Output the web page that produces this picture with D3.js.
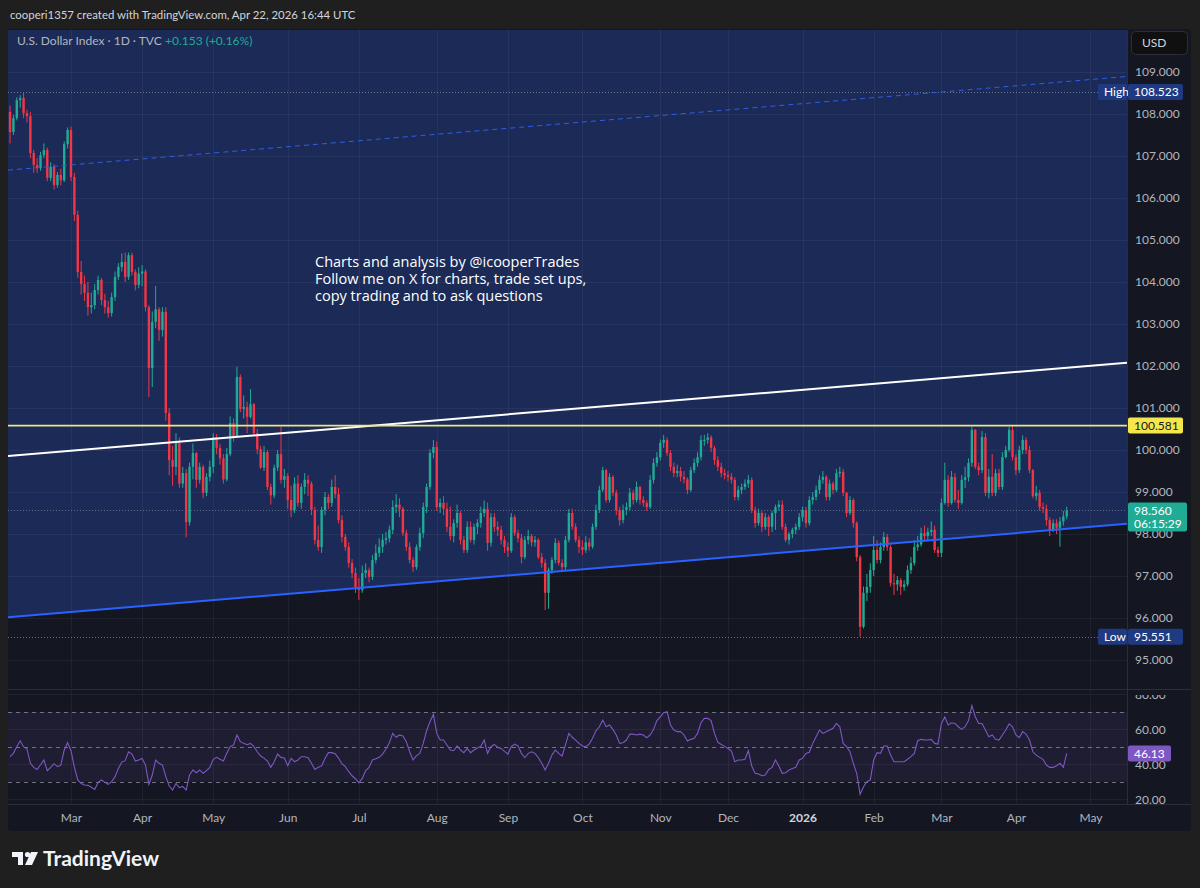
<!DOCTYPE html>
<html>
<head>
<meta charset="utf-8">
<title>U.S. Dollar Index 1D</title>
<script src="https://d3js.org/d3.v7.min.js"></script>
<style>
  html, body { margin: 0; padding: 0; background: #1f1f1f; }
  svg { display: block; font-family: Lato, "Noto Sans", sans-serif; }
</style>
</head>
<body>
<svg id="chart" width="1200" height="888"></svg>
<script>
// DXY daily bars, 5 Feb 2025 - 22 Apr 2026, one line per month
var closes = [
  107.57, 107.90, 108.33, 108.38, 108.02, 107.95, 107.07, 106.79, 106.71, 107.02, 107.14, 106.48, 106.74, 106.31, 106.55, 106.42, 107.28, 107.62,
  106.50, 105.60, 104.24, 103.95, 103.74, 103.40, 103.45, 103.81, 104.05, 103.57, 103.40, 103.26, 103.64, 104.12, 104.36, 104.48, 104.12, 104.64, 104.24, 103.93, 104.20,
  104.25, 103.40, 101.95, 103.05, 103.35, 102.86, 103.29, 100.88, 99.76, 99.60, 100.17, 99.20, 99.45, 98.28, 99.60, 99.93, 99.29, 99.60, 98.98, 99.36, 99.60,
  100.31, 100.05, 99.80, 99.30, 99.90, 100.64, 100.31, 101.74, 100.98, 101.02, 100.79, 101.09, 100.40, 100.02, 99.58, 99.95, 99.12, 98.92, 99.58, 99.90, 99.29, 99.38,
  98.81, 98.57, 99.20, 98.74, 99.12, 99.29, 99.20, 98.57, 97.86, 97.69, 98.57, 98.88, 98.74, 99.12, 98.95, 98.33, 97.93, 97.69, 97.31, 97.07, 96.74,
  96.67, 97.07, 97.14, 96.98, 97.38, 97.55, 97.69, 97.86, 97.90, 98.10, 98.64, 98.70, 98.60, 98.02, 97.69, 97.38, 97.21, 97.69, 98.02, 98.64, 99.12, 99.93, 100.07,
  98.64, 98.74, 98.60, 98.17, 97.95, 98.26, 98.50, 97.86, 97.62, 98.17, 97.86, 98.17, 98.26, 98.50, 98.60, 97.79, 98.40, 98.17, 98.10, 97.86, 97.69,
  97.60, 98.40, 98.02, 97.90, 97.45, 97.86, 97.95, 97.80, 97.86, 97.45, 97.31, 96.60, 97.14, 97.38, 97.79, 97.31, 97.21, 97.86, 98.50, 98.17, 97.86, 97.69,
  97.62, 97.80, 97.70, 98.17, 98.57, 99.05, 99.52, 98.81, 99.36, 98.98, 98.57, 98.33, 98.57, 98.64, 98.98, 98.81, 99.12, 98.81, 98.74, 98.64, 99.29, 99.69, 99.83,
  100.17, 100.24, 99.93, 99.60, 99.45, 99.50, 99.36, 99.30, 99.05, 99.52, 99.69, 99.83, 100.24, 100.24, 100.30, 100.05, 99.76, 99.60, 99.45, 99.40,
  99.36, 99.29, 98.88, 99.05, 99.12, 99.20, 99.29, 98.57, 98.26, 98.50, 98.17, 98.40, 98.17, 98.50, 98.64, 98.70, 98.17, 97.86, 98.00, 98.10, 98.17, 98.40,
  98.57, 98.26, 98.81, 98.88, 99.05, 99.29, 99.36, 98.88, 99.20, 99.05, 99.45, 99.48, 98.98, 98.50, 98.81, 98.26, 97.45, 95.79, 96.60, 96.74, 97.14,
  97.62, 97.38, 97.69, 97.93, 97.69, 96.83, 96.80, 96.90, 96.74, 96.80, 97.14, 97.31, 97.69, 97.75, 98.02, 97.95, 98.05, 98.10, 97.62, 97.55,
  98.74, 99.29, 98.74, 99.36, 98.81, 98.74, 99.29, 99.35, 99.69, 100.48, 99.60, 99.52, 100.31, 98.98, 99.36, 98.98, 99.45, 99.12, 99.83, 100.00, 100.48, 99.83,
  99.52, 100.00, 100.24, 100.00, 99.52, 98.90, 98.98, 98.64, 98.60, 98.33, 98.10, 98.26, 98.15, 98.30, 98.42, 98.56
];
var highs = [
  108.20, 107.98, 108.40, 108.45, 108.523, 108.10, 108.05, 107.15, 106.95, 107.10, 107.30, 107.20, 106.85, 106.80, 106.62, 106.70, 107.35, 107.68,
  107.70, 106.60, 105.70, 104.50, 104.15, 104.00, 103.75, 103.95, 104.15, 104.10, 103.72, 103.55, 103.75, 104.25, 104.45, 104.68, 104.70, 104.70, 104.70, 104.30, 104.35,
  104.40, 104.30, 103.45, 103.30, 103.90, 103.40, 103.40, 103.40, 101.00, 100.10, 100.40, 100.30, 99.60, 99.55, 99.70, 100.15, 99.95, 99.70, 99.65, 99.45, 99.75,
  100.40, 100.38, 100.15, 99.90, 100.05, 100.80, 100.75, 101.98, 101.80, 101.30, 101.15, 101.45, 101.12, 100.50, 100.10, 100.10, 100.00, 99.20, 99.65, 100.00, 100.55, 99.55,
  99.45, 99.15, 99.35, 99.40, 99.20, 99.45, 99.40, 99.25, 98.65, 98.20, 98.65, 99.00, 98.95, 99.30, 99.40, 99.10, 98.45, 98.00, 97.80, 97.40, 97.20,
  96.95, 97.25, 97.30, 97.20, 97.50, 97.75, 97.90, 98.00, 98.05, 98.20, 98.80, 98.95, 98.85, 98.65, 98.10, 97.80, 97.45, 97.75, 98.15, 98.75, 99.20, 100.02, 100.24,
  100.20, 98.85, 98.90, 98.75, 98.65, 98.35, 98.70, 98.55, 97.95, 98.30, 98.30, 98.25, 98.35, 98.65, 98.80, 98.75, 98.50, 98.50, 98.30, 98.20, 97.95,
  97.80, 98.50, 98.45, 98.10, 98.00, 97.95, 98.10, 98.00, 97.95, 97.90, 97.55, 97.40, 97.20, 97.45, 97.90, 97.85, 97.40, 97.95, 98.60, 98.60, 98.25, 97.95,
  97.85, 97.95, 97.90, 98.25, 98.70, 99.15, 99.60, 99.55, 99.45, 99.40, 99.05, 98.65, 98.70, 98.75, 99.10, 99.05, 99.25, 99.15, 98.90, 98.80, 99.40, 99.80, 99.95,
  100.25, 100.36, 100.30, 100.00, 99.70, 99.65, 99.60, 99.50, 99.35, 99.60, 99.80, 99.95, 100.35, 100.36, 100.40, 100.35, 100.10, 99.85, 99.70, 99.55,
  99.50, 99.45, 99.35, 99.15, 99.20, 99.30, 99.40, 99.35, 98.65, 98.60, 98.55, 98.50, 98.45, 98.55, 98.70, 98.80, 98.80, 98.25, 98.05, 98.15, 98.25, 98.50,
  98.65, 98.65, 98.90, 99.00, 99.15, 99.40, 99.50, 99.40, 99.30, 99.25, 99.55, 99.60, 99.55, 99.00, 98.90, 98.85, 98.30, 97.50, 96.75, 97.05, 97.30,
  97.95, 97.85, 97.80, 98.05, 98.00, 97.75, 97.05, 97.00, 96.95, 96.90, 97.25, 97.45, 97.85, 97.95, 98.15, 98.20, 98.15, 98.30, 98.20, 97.70,
  98.85, 99.70, 99.40, 99.50, 99.45, 99.05, 99.40, 99.60, 99.80, 100.55, 100.50, 99.70, 100.45, 100.40, 99.55, 99.90, 99.55, 99.55, 99.95, 100.10, 100.55, 100.581,
  99.90, 100.10, 100.35, 100.30, 100.10, 99.55, 99.15, 99.05, 98.75, 98.70, 98.40, 98.35, 98.35, 98.40, 98.55, 98.65
];
var lows = [
  107.30, 107.50, 107.85, 108.15, 107.90, 107.80, 106.95, 106.60, 106.60, 106.65, 106.95, 106.40, 106.40, 106.20, 106.25, 106.30, 106.38, 107.18,
  106.40, 105.45, 104.10, 103.70, 103.55, 103.20, 103.25, 103.35, 103.70, 103.45, 103.25, 103.15, 103.18, 103.55, 104.05, 104.25, 104.00, 104.05, 104.15, 103.80, 103.85,
  103.90, 103.30, 101.26, 101.50, 102.90, 102.60, 102.70, 100.70, 99.40, 99.15, 99.40, 99.10, 99.10, 97.92, 98.20, 99.30, 99.10, 99.20, 98.85, 98.90, 99.25,
  99.45, 99.90, 99.65, 99.20, 99.25, 99.85, 100.20, 100.30, 100.90, 100.75, 100.40, 100.75, 100.35, 99.90, 99.55, 99.50, 99.05, 98.70, 98.85, 99.50, 99.20, 99.10,
  98.60, 98.40, 98.50, 98.65, 98.60, 98.95, 98.90, 98.45, 97.75, 97.60, 97.55, 98.45, 98.60, 98.65, 98.85, 98.25, 97.80, 97.60, 97.20, 96.95, 96.60,
  96.43, 96.60, 96.95, 96.85, 96.90, 97.30, 97.45, 97.55, 97.75, 97.80, 98.00, 98.50, 98.40, 97.95, 97.60, 97.30, 97.10, 97.15, 97.60, 97.90, 98.50, 99.05, 99.80,
  98.55, 98.50, 98.45, 98.05, 97.85, 97.80, 98.15, 97.75, 97.55, 97.55, 97.80, 97.75, 98.00, 98.15, 98.40, 97.60, 97.70, 98.05, 97.95, 97.75, 97.55,
  97.45, 97.55, 97.95, 97.80, 97.30, 97.40, 97.75, 97.70, 97.70, 97.40, 97.20, 96.19, 96.22, 97.05, 97.30, 97.25, 97.10, 97.15, 97.80, 98.10, 97.80, 97.55,
  97.50, 97.55, 97.60, 97.65, 98.10, 98.50, 99.00, 98.75, 98.75, 98.90, 98.45, 98.20, 98.25, 98.45, 98.55, 98.70, 98.75, 98.70, 98.65, 98.55, 98.60, 99.20, 99.60,
  99.75, 100.05, 99.85, 99.50, 99.35, 99.35, 99.25, 99.20, 98.95, 99.00, 99.45, 99.60, 99.75, 100.10, 100.15, 99.95, 99.65, 99.50, 99.35, 99.30,
  99.25, 99.20, 98.80, 98.80, 98.95, 99.05, 99.10, 98.50, 98.15, 98.20, 98.05, 98.10, 97.95, 98.05, 98.10, 98.55, 98.10, 97.80, 97.75, 97.90, 98.00, 98.10,
  98.30, 98.15, 98.20, 98.70, 98.80, 98.95, 99.20, 98.80, 98.80, 98.95, 99.00, 99.35, 98.90, 98.40, 98.45, 98.15, 97.35, 95.551, 95.75, 96.40, 96.60,
  97.00, 97.30, 97.30, 97.60, 97.60, 96.75, 96.55, 96.65, 96.55, 96.65, 96.75, 97.05, 97.25, 97.60, 97.70, 97.85, 97.85, 97.95, 97.55, 97.45,
  97.45, 98.70, 98.65, 98.70, 98.75, 98.60, 98.70, 99.10, 99.25, 99.60, 99.55, 99.40, 99.45, 98.90, 98.85, 98.90, 98.90, 99.05, 99.05, 99.80, 99.95, 99.75,
  99.40, 99.45, 99.90, 99.90, 99.45, 98.85, 98.80, 98.55, 98.50, 98.20, 97.95, 98.05, 98.00, 97.70, 98.20, 98.35
];
var rsi14 = [
  44.3, 46.2, 50.0, 53.4, 50.0, 48.7, 40.5, 38.2, 37.0, 39.7, 42.4, 36.3, 38.2, 40.3, 38.6, 39.5, 48.1, 52.3,
  47.7, 38.2, 31.0, 29.0, 28.1, 27.9, 26.8, 25.6, 29.6, 31.0, 29.6, 28.5, 30.0, 32.9, 37.6, 41.2, 42.0, 47.1, 45.8, 41.8, 42.4,
  43.3, 39.5, 28.5, 33.8, 42.4, 40.5, 39.5, 32.9, 27.5, 25.2, 29.0, 26.6, 27.3, 25.2, 33.8, 36.7, 35.1, 36.7, 34.8, 36.3, 38.2,
  42.8, 43.9, 42.8, 41.8, 46.2, 50.0, 51.0, 56.7, 52.9, 51.9, 51.1, 51.9, 50.0, 47.1, 44.7, 43.5, 41.8, 38.2, 41.4, 45.8, 43.9, 43.5,
  39.1, 43.3, 41.4, 42.4, 44.3, 44.3, 43.7, 40.5, 37.0, 38.2, 39.0, 43.3, 46.6, 46.6, 46.0, 43.5, 40.3, 38.6, 35.7, 33.4, 31.7,
  29.4, 31.9, 36.3, 38.2, 42.4, 43.1, 43.9, 45.8, 48.7, 52.3, 57.6, 55.4, 56.7, 56.1, 52.9, 47.1, 42.4, 44.9, 46.2, 51.9, 59.1, 64.3, 68.5,
  57.6, 53.8, 53.8, 51.0, 48.1, 47.7, 50.4, 48.1, 46.6, 49.0, 46.6, 48.1, 49.2, 50.2, 53.8, 46.2, 50.0, 51.3, 49.6, 49.0, 47.3,
  45.8, 50.0, 51.5, 50.4, 46.2, 43.7, 46.2, 47.1, 46.2, 43.7, 40.5, 36.7, 40.5, 45.2, 48.1, 46.2, 44.7, 51.0, 57.6, 55.4, 53.8, 51.9,
  50.4, 50.0, 51.5, 54.8, 59.1, 61.4, 65.2, 61.4, 62.4, 59.9, 56.7, 51.9, 52.3, 53.8, 57.2, 57.2, 56.7, 57.2, 56.7, 55.1, 56.7, 59.9, 64.9,
  67.1, 69.4, 70.0, 62.4, 59.5, 58.6, 58.6, 56.7, 53.2, 54.2, 54.8, 57.6, 63.7, 66.2, 66.2, 64.9, 57.6, 52.5, 51.3, 50.2,
  49.0, 47.5, 41.4, 42.4, 42.4, 42.8, 47.7, 39.0, 34.8, 34.4, 33.4, 33.8, 37.0, 38.2, 42.4, 39.0, 34.8, 35.1, 36.7, 37.6, 38.2, 42.4,
  43.3, 46.2, 46.8, 51.9, 55.7, 59.5, 57.6, 58.6, 59.5, 60.5, 63.3, 61.4, 51.9, 50.0, 47.1, 40.5, 34.8, 22.8, 27.1, 30.0, 31.0,
  42.4, 46.6, 46.2, 50.4, 50.4, 45.2, 41.4, 41.4, 41.4, 41.4, 42.8, 44.3, 46.2, 53.4, 54.2, 53.8, 53.8, 54.2, 51.9, 51.5,
  63.3, 67.0, 62.4, 63.7, 63.3, 61.4, 59.9, 61.4, 64.9, 73.5, 67.1, 63.3, 63.3, 59.5, 55.7, 56.7, 54.2, 53.8, 56.7, 59.5, 63.0, 61.4,
  56.7, 55.1, 58.6, 57.2, 53.8, 47.1, 45.2, 43.9, 42.8, 39.5, 38.2, 38.2, 39.1, 40.5, 38.2, 46.13
];
var firstOpen = 108.05;
var holidays = ["2025-04-18", "2025-12-25", "2026-01-01"];
var timeTicks = [
  ["2025-03-03", "Mar"], ["2025-04-01", "Apr"], ["2025-05-01", "May"], ["2025-06-02", "Jun"],
  ["2025-07-01", "Jul"], ["2025-08-01", "Aug"], ["2025-09-01", "Sep"], ["2025-10-01", "Oct"],
  ["2025-11-03", "Nov"], ["2025-12-01", "Dec"], ["2026-01-02", "2026"], ["2026-02-02", "Feb"],
  ["2026-03-02", "Mar"], ["2026-04-01", "Apr"], ["2026-05-01", "May"]
];
var priceTicks = [95, 96, 97, 98, 99, 100, 101, 102, 103, 104, 105, 106, 107, 108, 109];
var rsiTicks = [20, 40, 60, 80];
var rsiLevels = [30, 50, 70];
var periodHigh = 108.523, periodLow = 95.551, lastPrice = 98.560, levelPrice = 100.581;
// drawn trend lines: [bar index, price] anchors
var upperLine = [[0, 106.667], [313, 108.78]];
var midLine = [[0, 99.862], [313, 101.964]];
var supportLine = [[0, 96.021], [313, 98.129]];

var left = 8, paneRight = 1127, axisRight = 1191;
var priceTop = 30, priceBottom = 688, rsiTop = 690, rsiBottom = 804, timeBottom = 831;
var upColor = "#22ab94", downColor = "#f23645", axisText = "#b2b5be";

var svg = d3.select("#chart");

var fmt = d3.utcFormat("%Y-%m-%d");
var days = d3.utcDay.range(new Date(Date.UTC(2025, 1, 5)), new Date(Date.UTC(2026, 4, 30)))
  .filter(function(d) {
    var w = d.getUTCDay();
    return w !== 0 && w !== 6 && holidays.indexOf(fmt(d)) < 0;
  })
  .map(fmt);

var x = d3.scaleLinear().domain([-0.6, 329.8]).range([left, paneRight]);
var y = d3.scaleLinear().domain([95, 109]).range([660, 72]);
var yr = d3.scaleLinear().domain([30, 70]).range([781.7, 711.7]);

function lineAt(a, i) {
  return a[0][1] + (a[1][1] - a[0][1]) * (i - a[0][0]) / (a[1][0] - a[0][0]);
}

var bars = closes.map(function(c, i) {
  var o = i === 0 ? firstOpen : closes[i - 1];
  return { i: i, o: o, c: c, h: Math.max(highs[i], o, c), l: Math.min(lows[i], o, c) };
});

var defs = svg.append("defs");
defs.append("clipPath").attr("id", "clipPrice").append("rect")
  .attr("x", left).attr("y", priceTop).attr("width", paneRight - left).attr("height", priceBottom - priceTop);
defs.append("clipPath").attr("id", "clipRsi").append("rect")
  .attr("x", left).attr("y", rsiTop).attr("width", paneRight - left).attr("height", rsiBottom - rsiTop);
defs.append("clipPath").attr("id", "clipPriceAxis").append("rect")
  .attr("x", paneRight).attr("y", priceTop).attr("width", axisRight - paneRight).attr("height", priceBottom - priceTop);
defs.append("clipPath").attr("id", "clipRsiAxis").append("rect")
  .attr("x", paneRight).attr("y", rsiTop + 5).attr("width", axisRight - paneRight).attr("height", rsiBottom - rsiTop - 5);

// backgrounds
svg.append("rect").attr("width", 1200).attr("height", 888).attr("fill", "#1f1f1f");
svg.append("rect")
  .attr("x", left).attr("y", priceTop - 1).attr("width", axisRight - left).attr("height", timeBottom - priceTop + 1)
  .attr("rx", 4).attr("fill", "#141722");

var tickIdx = timeTicks.map(function(t) { return days.indexOf(t[0]); });

// ---- price pane
var price = svg.append("g").attr("clip-path", "url(#clipPrice)");
var d0 = x.domain()[0], d1 = x.domain()[1];

price.append("polygon")
  .attr("points", [
    [x(d0), priceTop], [x(d1), priceTop],
    [x(d1), y(lineAt(supportLine, d1))], [x(d0), y(lineAt(supportLine, d0))]
  ].map(function(p) { return p.join(","); }).join(" "))
  .attr("fill", "#1b2a57");

price.selectAll(".hgrid").data(priceTicks).enter().append("line")
  .attr("x1", left).attr("x2", paneRight)
  .attr("y1", function(d) { return Math.round(y(d)) + 0.5; })
  .attr("y2", function(d) { return Math.round(y(d)) + 0.5; })
  .attr("stroke", "rgba(255,255,255,0.05)");
price.selectAll(".vgrid").data(tickIdx).enter().append("line")
  .attr("x1", function(d) { return Math.round(x(d)) + 0.5; })
  .attr("x2", function(d) { return Math.round(x(d)) + 0.5; })
  .attr("y1", priceTop).attr("y2", priceBottom)
  .attr("stroke", "rgba(255,255,255,0.05)");

// high / low / last price dotted lines
[periodHigh, periodLow].forEach(function(p) {
  price.append("line")
    .attr("x1", left).attr("x2", 1098)
    .attr("y1", Math.round(y(p)) + 0.5).attr("y2", Math.round(y(p)) + 0.5)
    .attr("stroke", "rgba(178,181,190,0.55)").attr("stroke-dasharray", "1,2");
});
price.append("line")
  .attr("x1", left).attr("x2", paneRight)
  .attr("y1", Math.round(y(lastPrice)) + 0.5).attr("y2", Math.round(y(lastPrice)) + 0.5)
  .attr("stroke", "rgba(178,181,190,0.45)").attr("stroke-dasharray", "1,2");

// candles
var candle = price.selectAll(".candle").data(bars).enter().append("g").attr("class", "candle");
candle.append("line")
  .attr("x1", function(b) { return x(b.i); })
  .attr("x2", function(b) { return x(b.i); })
  .attr("y1", function(b) { return y(b.h); })
  .attr("y2", function(b) { return y(b.l); })
  .attr("stroke", function(b) { return b.c >= b.o ? upColor : downColor; })
  .attr("stroke-width", 1);
candle.append("rect")
  .attr("x", function(b) { return x(b.i) - 1.2; })
  .attr("width", 2.4)
  .attr("y", function(b) { return y(Math.max(b.o, b.c)); })
  .attr("height", function(b) { return Math.max(1, Math.abs(y(b.o) - y(b.c))); })
  .attr("fill", function(b) { return b.c >= b.o ? upColor : downColor; });

// drawings
function trend(a, color, width, dash) {
  var l = price.append("line")
    .attr("x1", x(d0)).attr("y1", y(lineAt(a, d0)))
    .attr("x2", x(d1)).attr("y2", y(lineAt(a, d1)))
    .attr("stroke", color).attr("stroke-width", width);
  if (dash) l.attr("stroke-dasharray", dash);
}
trend(upperLine, "#2e5ee8", 1, "5,4");
trend(midLine, "#ffffff", 2);
trend(supportLine, "#2962ff", 2);
price.append("line")
  .attr("x1", left).attr("x2", paneRight)
  .attr("y1", y(levelPrice)).attr("y2", y(levelPrice))
  .attr("stroke", "#ece583").attr("stroke-width", 1.6);

// watermark note
var note = ["Charts and analysis by @icooperTrades",
            "Follow me on X for charts, trade set ups,",
            "copy trading and to ask questions"];
price.selectAll(".note").data(note).enter().append("text")
  .attr("x", 315).attr("y", function(d, i) { return 267 + i * 17; })
  .attr("fill", "#ffffff").attr("font-size", 14.5)
  .attr("font-family", "'Open Sans', sans-serif")
  .text(function(d) { return d; });

// legend
var legend = svg.append("text").attr("x", 17).attr("y", 45).attr("font-size", 12);
legend.append("tspan").attr("fill", "#b2b5be").text("U.S. Dollar Index \u00b7 1D \u00b7 TVC");
legend.append("tspan").attr("x", 165).attr("fill", upColor).text("+0.153 (+0.16%)");

// ---- rsi pane
var rp = svg.append("g").attr("clip-path", "url(#clipRsi)");
rp.append("rect")
  .attr("x", left).attr("width", paneRight - left)
  .attr("y", yr(70)).attr("height", yr(30) - yr(70))
  .attr("fill", "rgba(126,87,194,0.1)");
rp.selectAll(".rgrid").data(rsiTicks).enter().append("line")
  .attr("x1", left).attr("x2", paneRight)
  .attr("y1", function(d) { return Math.round(yr(d)) + 0.5; })
  .attr("y2", function(d) { return Math.round(yr(d)) + 0.5; })
  .attr("stroke", "rgba(255,255,255,0.05)");
rp.selectAll(".rvgrid").data(tickIdx).enter().append("line")
  .attr("x1", function(d) { return Math.round(x(d)) + 0.5; })
  .attr("x2", function(d) { return Math.round(x(d)) + 0.5; })
  .attr("y1", rsiTop).attr("y2", rsiBottom)
  .attr("stroke", "rgba(255,255,255,0.05)");
rp.selectAll(".level").data(rsiLevels).enter().append("line")
  .attr("x1", left).attr("x2", paneRight)
  .attr("y1", function(d) { return Math.round(yr(d)) + 0.5; })
  .attr("y2", function(d) { return Math.round(yr(d)) + 0.5; })
  .attr("stroke", "rgba(150,153,164,0.7)").attr("stroke-dasharray", "4,4");
rp.append("path")
  .datum(rsi14)
  .attr("d", d3.line().x(function(d, i) { return x(i); }).y(function(d) { return yr(d); }))
  .attr("fill", "none").attr("stroke", "#7e57c2").attr("stroke-width", 1.1);

// pane separators
svg.append("line").attr("x1", left).attr("x2", axisRight).attr("y1", 689.5).attr("y2", 689.5).attr("stroke", "#2a2e39");
svg.append("line").attr("x1", left).attr("x2", axisRight).attr("y1", rsiBottom + 0.5).attr("y2", rsiBottom + 0.5).attr("stroke", "#2a2e39");
svg.append("line").attr("x1", paneRight + 0.5).attr("x2", paneRight + 0.5).attr("y1", priceTop).attr("y2", rsiBottom).attr("stroke", "#2a2e39");

// ---- axes
function styleAxis(g) {
  g.select(".domain").remove();
  g.selectAll("line").remove();
  g.selectAll("text").attr("fill", axisText).attr("font-size", 12).attr("font-family", "Lato, sans-serif");
}
svg.append("g").attr("clip-path", "url(#clipPriceAxis)")
  .append("g").attr("transform", "translate(" + paneRight + ",0)")
  .call(d3.axisRight(y).tickValues(priceTicks).tickFormat(d3.format(".3f")).tickSize(0).tickPadding(8))
  .call(styleAxis);
svg.append("g").attr("clip-path", "url(#clipRsiAxis)")
  .append("g").attr("transform", "translate(" + paneRight + ",0)")
  .call(d3.axisRight(yr).tickValues(rsiTicks).tickFormat(d3.format(".2f")).tickSize(0).tickPadding(8))
  .call(styleAxis);
svg.append("g").attr("transform", "translate(0," + rsiBottom + ")")
  .call(d3.axisBottom(x).tickValues(tickIdx).tickSize(0).tickPadding(9)
    .tickFormat(function(d, i) { return timeTicks[i][1]; }))
  .call(styleAxis)
  .selectAll("text")
  .attr("font-weight", function(d, i) { return timeTicks[i][1] === "2026" ? 700 : 400; })
  .attr("fill", function(d, i) { return timeTicks[i][1] === "2026" ? "#d1d4dc" : axisText; });

// price labels: first line sits on the price, extra lines hang below
function tag(x0, w, yc, bg, lines, color) {
  var h = 16 + (lines.length - 1) * 13;
  svg.append("rect").attr("x", x0).attr("y", yc - 8).attr("width", w).attr("height", h)
    .attr("rx", 2).attr("fill", bg);
  lines.forEach(function(t, k) {
    svg.append("text").attr("x", x0 + 6).attr("y", yc + k * 13)
      .attr("dy", "0.35em").attr("font-size", 12).attr("fill", color).text(t);
  });
}
tag(1098, 29, y(periodHigh), "#1f3a80", ["High"], "#ffffff");
tag(paneRight + 1, 55, y(periodHigh), "#1f3a80", [d3.format(".3f")(periodHigh)], "#ffffff");
tag(1098, 29, y(periodLow), "#1f3a80", ["Low"], "#ffffff");
tag(paneRight + 1, 55, y(periodLow), "#1f3a80", [d3.format(".3f")(periodLow)], "#ffffff");
tag(paneRight + 1, 55, y(levelPrice), "#f5e64c", [d3.format(".3f")(levelPrice)], "#131722");
tag(paneRight + 1, 59, y(lastPrice), upColor, [d3.format(".3f")(lastPrice), "06:15:29"], "#ffffff");
tag(paneRight + 1, 43, yr(rsi14[rsi14.length - 1]), "#7e57c2", [d3.format(".2f")(rsi14[rsi14.length - 1])], "#ffffff");

// currency button
svg.append("rect").attr("x", 1131.5).attr("y", 31.5).attr("width", 56).attr("height", 23).attr("rx", 4)
  .attr("fill", "#101010").attr("stroke", "#2a2e39");
svg.append("text").attr("x", 1142).attr("y", 47).attr("font-size", 12).attr("fill", "#d1d4dc").text("USD");

// header and footer
svg.append("text").attr("x", 10).attr("y", 19).attr("font-size", 11.4).attr("fill", "#d1d4dc")
  .text("cooperi1357 created with TradingView.com, Apr 22, 2026 16:44 UTC");

var logo = svg.append("g").attr("fill", "#f0f3fa");
logo.append("rect").attr("x", 12).attr("y", 852).attr("width", 11).attr("height", 5);
logo.append("rect").attr("x", 18).attr("y", 852).attr("width", 5).attr("height", 13);
logo.append("circle").attr("cx", 27.5).attr("cy", 854.5).attr("r", 2.6);
logo.append("polygon").attr("points", "31,852 38,852 32,865 25,865");
svg.append("text").attr("x", 43).attr("y", 866).attr("font-size", 21).attr("font-weight", 700)
  .attr("fill", "#f0f3fa").text("TradingView");
</script>
</body>
</html>
